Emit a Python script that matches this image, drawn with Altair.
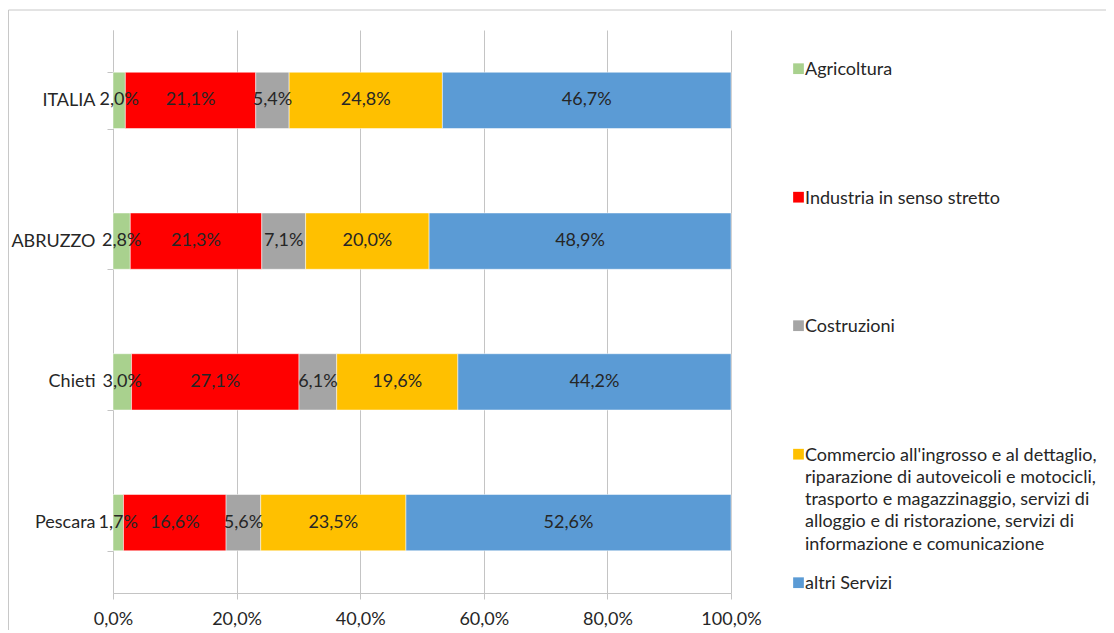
import altair as alt
import pandas as pd

categories = ["ITALIA", "ABRUZZO", "Chieti", "Pescara"]
sectors = [
    "Agricoltura",
    "Industria in senso stretto",
    "Costruzioni",
    "Commercio all'ingrosso e al dettaglio, riparazione di autoveicoli e motocicli, trasporto e magazzinaggio, servizi di alloggio e di ristorazione, servizi di informazione e comunicazione",
    "altri Servizi",
]
legend_labels = [
    "Agricoltura",
    "Industria in senso stretto",
    "Costruzioni",
    "Commercio all'ingrosso e al dettaglio,\nriparazione di autoveicoli e motocicli,\ntrasporto e magazzinaggio, servizi di\nalloggio e di ristorazione, servizi di\ninformazione e comunicazione",
    "\u00a0altri Servizi",
]
agricoltura = [2.0, 2.8, 3.0, 1.7]
industria = [21.1, 21.3, 27.1, 16.6]
costruzioni = [5.4, 7.1, 6.1, 5.6]
commercio = [24.8, 20.0, 19.6, 23.5]
altri_servizi = [46.7, 48.9, 44.2, 52.6]
colors = ["#a9d18e", "#ff0000", "#a5a5a5", "#ffc000", "#5b9bd5"]
x_ticks = [0, 0.2, 0.4, 0.6, 0.8, 1.0]

series = [agricoltura, industria, costruzioni, commercio, altri_servizi]
rows = []
for i, cat in enumerate(categories):
    for j, sec in enumerate(sectors):
        rows.append({"area": cat, "sector": sec, "idx": j, "value": series[j][i]})
df = pd.DataFrame(rows)
ldf = pd.DataFrame({"sector": sectors, "label": legend_labels})

FONT = "Lato"
FS = 18
GRID = "#c4c4c4"

cscale = alt.Scale(domain=sectors, range=colors)
xscale = alt.Scale(domain=[0, 1], nice=False, zero=True)
yenc = alt.Y(
    "area:N",
    sort=categories,
    scale=alt.Scale(paddingInner=0.6, paddingOuter=0.3),
    axis=alt.Axis(
        title=None, tickBand="extent", tickSize=6, tickColor=GRID,
        domainColor=GRID, labelPadding=12, grid=False,
        labelFont=FONT, labelFontSize=FS, labelColor="#262626",
    ),
)
xaxis = alt.Axis(
    values=x_ticks, title=None, grid=True, gridColor=GRID,
    tickSize=6, tickColor=GRID, domainColor=GRID, labelPadding=11,
    labelFlush=False,
    labelExpr="replace(format(datum.value, '.1%'), '.', ',')",
    labelFont=FONT, labelFontSize=FS, labelColor="#262626",
)

base = (
    alt.Chart(df)
    .transform_stack(
        stack="value", groupby=["area"], as_=["x0", "x1"],
        sort=[alt.SortField("idx", order="ascending")], offset="normalize",
    )
    .transform_calculate(
        mid="(datum.x0 + datum.x1) / 2",
        lab="replace(format(datum.value, '.1f'), '.', ',') + '%'",
    )
)

bars = base.mark_bar(stroke="white", strokeWidth=0.5).encode(
    y=yenc,
    x=alt.X("x0:Q", scale=xscale, axis=xaxis),
    x2="x1:Q",
    color=alt.Color("sector:N", scale=cscale, legend=None),
)

texts = base.mark_text(font=FONT, fontSize=FS, color="#262626").encode(
    y=alt.Y("area:N", sort=categories),
    x=alt.X("mid:Q", scale=xscale, axis=xaxis),
    text="lab:N",
)

main = alt.layer(bars, texts)

ly = alt.Y(
    "sector:N", sort=sectors,
    scale=alt.Scale(type="point", range=[31, 545], padding=0),
    axis=None,
)
leg_sq = alt.Chart(ldf).mark_square(size=115, opacity=1, yOffset=7.7).encode(
    x=alt.value(685.5), y=ly,
    color=alt.Color("sector:N", scale=cscale, legend=None),
)
leg_txt = alt.Chart(ldf).mark_text(
    align="left", baseline="top", lineBreak="\n", lineHeight=22.3,
    font=FONT, fontSize=FS, color="#262626",
).encode(x=alt.value(692), y=ly, text="label:N")
legend = alt.layer(leg_sq, leg_txt)

one = pd.DataFrame({"a": [0]})
border_top = alt.Chart(one).mark_rule(color="#c8c8c8", strokeWidth=1).encode(
    x=alt.value(-104.5), x2=alt.value(1200), y=alt.value(-20)
)
border_left = alt.Chart(one).mark_rule(color="#c8c8c8", strokeWidth=1).encode(
    x=alt.value(-104.5), y=alt.value(-20), y2=alt.value(800)
)
border = alt.layer(border_top, border_left)

chart = (
    alt.layer(border, main, legend)
    .resolve_scale(y="independent")
    .properties(
        width=618, height=563,
        autosize=alt.AutoSizeParams(type="none"),
        padding={"left": 105, "top": 22, "right": 375, "bottom": 37},
    )
    .configure_view(stroke=None)
)

chart.save("out.html", embed_options={"renderer": "svg", "actions": False})
